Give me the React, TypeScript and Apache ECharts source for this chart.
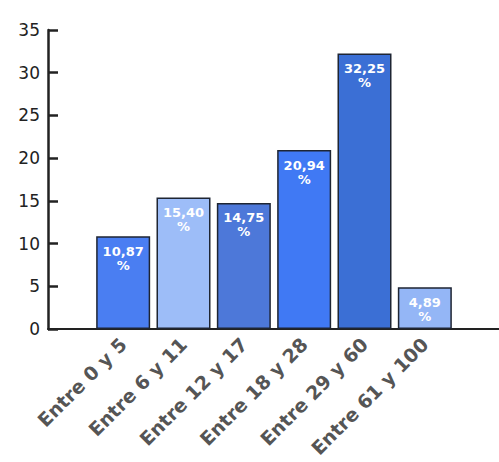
import React, { useEffect, useRef } from "react";
import * as echarts from "echarts";

const categories = ["Entre 0 y 5", "Entre 6 y 11", "Entre 12 y 17", "Entre 18 y 28", "Entre 29 y 60", "Entre 61 y 100"];
const values = [10.87, 15.4, 14.75, 20.94, 32.25, 4.89];
const barColors = ["#4a7ef2", "#9dbdf8", "#4d78d9", "#4079f4", "#3b6fd5", "#94b6f6"];
const yMin = 0;
const yMax = 35;
const yInterval = 5;

export default function App() {
  const ref = useRef<HTMLDivElement>(null);
  useEffect(() => {
    document.body.style.margin = "0";
    const chart = echarts.init(ref.current!, null, { renderer: "svg" });
    const font = "DejaVu Sans, Verdana, sans-serif";
    chart.setOption({
      animation: false,
      backgroundColor: "#ffffff",
      grid: [
        { left: 48, right: -20, top: 30, bottom: 133 },
        { left: 93, width: 362, top: 30, bottom: 133 },
      ],
      xAxis: [
        {
          type: "value",
          gridIndex: 0,
          min: 0,
          max: 1,
          axisLine: { show: true, onZero: false, lineStyle: { color: "#222", width: 2 } },
          axisTick: { show: false },
          axisLabel: { show: false },
          splitLine: { show: false },
        },
        {
          type: "category",
          gridIndex: 1,
          data: categories,
          axisLine: { show: false },
          axisTick: { show: false },
          axisLabel: {
            rotate: 45,
            interval: 0,
            margin: 12,
            padding: [14, 0, 0, 0],
            color: "#555",
            fontWeight: "bold",
            fontSize: 19,
            fontFamily: font,
          },
        },
      ],
      yAxis: [
        {
          type: "value",
          gridIndex: 0,
          min: yMin,
          max: yMax,
          interval: yInterval,
          axisLine: { show: true, lineStyle: { color: "#222", width: 2.5 } },
          axisTick: { show: true, inside: true, length: 10, lineStyle: { color: "#222", width: 2.5 } },
          axisLabel: { color: "#222", fontSize: 17, fontFamily: font, margin: 8 },
          splitLine: { show: false },
        },
        {
          type: "value",
          gridIndex: 1,
          min: yMin,
          max: yMax,
          interval: yInterval,
          show: false,
          splitLine: { show: false },
        },
      ],
      series: [
        {
          type: "bar",
          xAxisIndex: 1,
          yAxisIndex: 1,
          barWidth: 54,
          data: values.map((v, i) => ({
            value: v,
            itemStyle: { color: barColors[i], borderColor: "#1e2533", borderWidth: 1.5 },
          })),
          label: {
            show: true,
            position: "insideTop",
            distance: 8,
            color: "#ffffff",
            fontWeight: "bold",
            fontSize: 13,
            lineHeight: 14,
            fontFamily: font,
            formatter: (p: any) => p.value.toFixed(2).replace(".", ",") + "\n%",
          },
        },
      ],
    });
    return () => chart.dispose();
  }, []);
  return <div ref={ref} style={{ position: "absolute", left: 0, top: 0, width: 499, height: 462 }} />;
}
